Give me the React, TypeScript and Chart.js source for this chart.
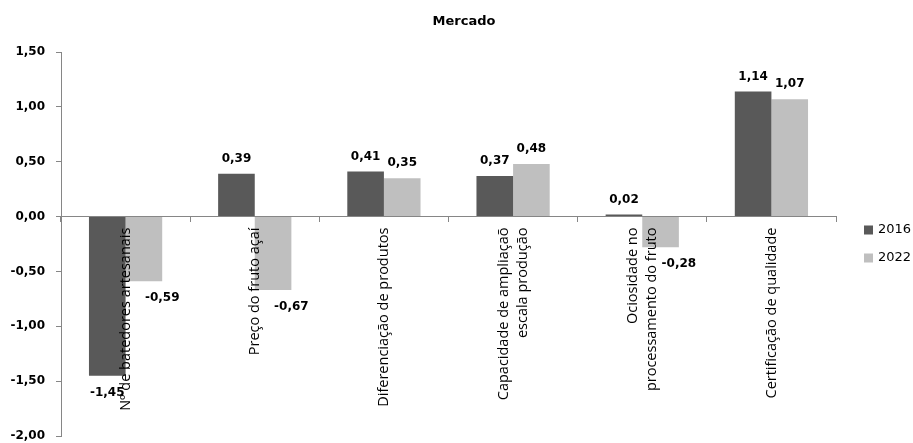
import React, { useEffect, useRef } from 'react';
import { Chart, registerables } from 'chart.js';

Chart.register(...registerables);

const chartTitle = 'Mercado';
const categories: string[][] = [
  ['Nº de batedores artesanais'],
  ['Preço do fruto açaí'],
  ['Diferenciação de produtos'],
  ['Capacidade de ampliaçaõ', 'escala produção'],
  ['Ociosidade no', 'processamento do fruto'],
  ['Certificação de qualidade'],
];
const seriesNames = ['2016', '2022'];
const values2016 = [-1.45, 0.39, 0.41, 0.37, 0.02, 1.14];
const values2022 = [-0.59, -0.67, 0.35, 0.48, -0.28, 1.07];
const yMin = -2;
const yMax = 1.5;
const yStep = 0.5;

const colors = ['#595959', '#BFBFBF'];
const axisColor = '#868686';
const numFont = 'bold 12px "DejaVu Sans"';
const catFont = '14.5px "Open Sans"';
const legendFont = '13px "DejaVu Sans"';

const fmt = (v: number) => v.toFixed(2).replace('.', ',');

const overlayPlugin = {
  id: 'overlay',
  afterDatasetsDraw(chart: any) {
    const ctx = chart.ctx as CanvasRenderingContext2D;
    const xs = chart.scales.x;
    const ys = chart.scales.y;
    const y0 = ys.getPixelForValue(0);

    // data labels
    ctx.save();
    ctx.font = numFont;
    ctx.fillStyle = '#000';
    ctx.textAlign = 'center';
    ctx.textBaseline = 'middle';
    chart.data.datasets.forEach((ds: any, di: number) => {
      const meta = chart.getDatasetMeta(di);
      meta.data.forEach((bar: any, i: number) => {
        const v = ds.data[i];
        let x = bar.x;
        let y: number;
        if (v >= 0) {
          y = bar.y - 15;
        } else {
          y = bar.y + 17;
          if (di === 1) x += bar.width / 2;
        }
        ctx.fillText(fmt(v), x, y);
      });
    });
    ctx.restore();

    // category labels, rotated, hanging below the zero line
    ctx.save();
    ctx.font = catFont;
    ctx.fillStyle = '#000';
    ctx.textAlign = 'right';
    ctx.textBaseline = 'middle';
    const lh = 19;
    categories.forEach((lines, i) => {
      const x = xs.getPixelForValue(i);
      ctx.save();
      ctx.translate(x, y0 + 11);
      ctx.rotate(-Math.PI / 2);
      lines.forEach((t, j) => {
        ctx.fillText(t, 0, (j - (lines.length - 1) / 2) * lh);
      });
      ctx.restore();
    });
    ctx.restore();
  },
  afterDraw(chart: any) {
    const ctx = chart.ctx as CanvasRenderingContext2D;
    ctx.save();
    // title
    ctx.font = 'bold 13px "DejaVu Sans"';
    ctx.fillStyle = '#000';
    ctx.textAlign = 'center';
    ctx.textBaseline = 'middle';
    ctx.fillText(chartTitle, 464, 22);
    // legend
    ctx.font = legendFont;
    ctx.textAlign = 'left';
    seriesNames.forEach((name, i) => {
      const cy = 230 + i * 28;
      ctx.fillStyle = colors[i];
      ctx.fillRect(864, cy - 4.5, 9, 9);
      ctx.fillStyle = '#000';
      ctx.fillText(name, 878, cy);
    });
    ctx.restore();
  },
};

export default function App() {
  const ref = useRef<HTMLCanvasElement | null>(null);
  useEffect(() => {
    document.body.style.margin = '0';
    if (!ref.current) return;
    const chart = new Chart(ref.current, {
      type: 'bar',
      data: {
        labels: categories.map((c) => c.join(' ')),
        datasets: [
          {
            label: seriesNames[0],
            data: values2016,
            backgroundColor: colors[0],
            borderWidth: 0,
            categoryPercentage: 0.567,
            barPercentage: 1,
          },
          {
            label: seriesNames[1],
            data: values2022,
            backgroundColor: colors[1],
            borderWidth: 0,
            categoryPercentage: 0.567,
            barPercentage: 1,
          },
        ],
      },
      options: {
        responsive: false,
        animation: false,
        devicePixelRatio: 1,
        layout: { padding: { top: 52, right: 77, bottom: 7, left: 0 } },
        plugins: {
          legend: { display: false },
          title: { display: false },
          tooltip: { enabled: false },
        },
        scales: {
          x: {
            type: 'category',
            position: { y: 0 } as any,
            offset: true,
            grid: {
              display: true,
              drawOnChartArea: false,
              drawTicks: true,
              tickLength: 5,
              color: axisColor,
              offset: true,
            },
            border: { display: true, color: axisColor, width: 1 },
            ticks: { display: false },
          },
          y: {
            min: yMin,
            max: yMax,
            ticks: {
              stepSize: yStep,
              color: '#000',
              font: { family: 'DejaVu Sans', weight: 'bold', size: 12 },
              padding: 11,
              callback: (v: any) => fmt(Number(v)),
            },
            grid: {
              drawOnChartArea: false,
              drawTicks: true,
              tickLength: 5,
              color: axisColor,
            },
            border: { display: true, color: axisColor, width: 1 },
            afterFit: (s: any) => {
              s.width = 61;
              s.paddingTop = 7;
              s.paddingBottom = 7;
            },
          },
        },
      },
      plugins: [overlayPlugin],
    });
    return () => chart.destroy();
  }, []);
  return (
    <div style={{ width: 913, height: 443 }}>
      <canvas ref={ref} width={913} height={443} style={{ display: 'block' }} />
    </div>
  );
}
